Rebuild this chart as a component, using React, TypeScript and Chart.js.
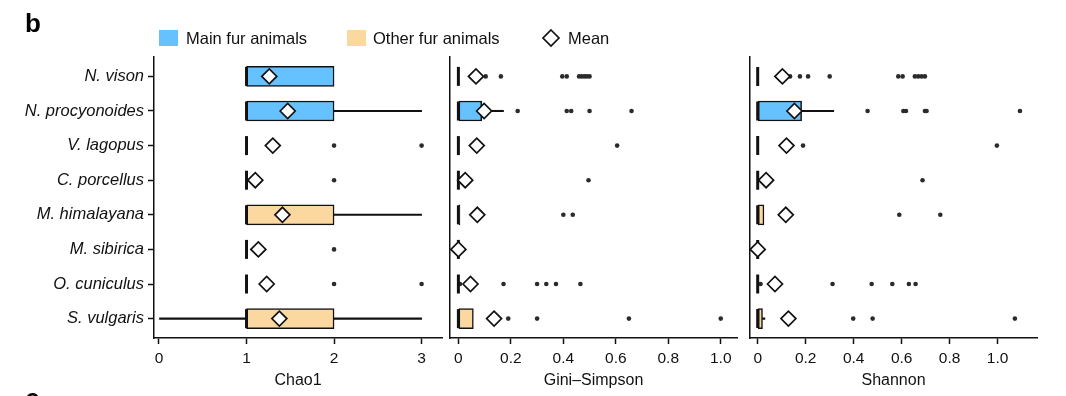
import React, { useEffect, useRef } from 'react';
import { Chart, registerables } from 'chart.js';

Chart.register(...registerables);

const FONT = "'Liberation Sans', Arial, Helvetica, sans-serif";
const INK = '#111111';
const MAIN_COLOR = '#66C2FF';
const OTHER_COLOR = '#FBD89F';
const DOT_COLOR = '#2b2b2b';

// Categories (top to bottom)
const species = [
  'N. vison',
  'N. procyonoides',
  'V. lagopus',
  'C. porcellus',
  'M. himalayana',
  'M. sibirica',
  'O. cuniculus',
  'S. vulgaris',
];
const isMainFur = [true, true, true, true, false, false, false, false];

// Chao1
const chaoQ1 = [1, 1, 1, 1, 1, 1, 1, 1];
const chaoQ3 = [2, 2, 1, 1, 2, 1, 1, 2];
const chaoMedian = [1, 1, 1, 1, 1, 1, 1, 1];
const chaoWhiskerLow = [1, 1, 1, 1, 1, 1, 1, 0];
const chaoWhiskerHigh = [2, 3, 1, 1, 3, 1, 1, 3];
const chaoMean = [1.26, 1.47, 1.3, 1.1, 1.41, 1.135, 1.23, 1.375];
const chaoOutliers = [[], [], [2, 3], [2], [], [2], [2, 3], []];
const chaoTicks = [0, 1, 2, 3];

// Gini–Simpson
const giniQ1 = [0, 0, 0, 0, 0, 0, 0, 0];
const giniQ3 = [0, 0.089, 0, 0, 0.006, 0, 0, 0.057];
const giniMedian = [0, 0, 0, 0, 0, 0, 0, 0];
const giniWhiskerLow = [0, 0, 0, 0, 0, 0, 0, 0];
const giniWhiskerHigh = [0, 0.172, 0, 0, 0.006, 0, 0, 0.057];
const giniMean = [0.067, 0.098, 0.07, 0.026, 0.072, 0.0, 0.046, 0.136];
const giniOutliers = [
  [0.104, 0.162, 0.396, 0.413, 0.46, 0.47, 0.48, 0.49, 0.5],
  [0.226, 0.413, 0.43, 0.5, 0.66],
  [0.605],
  [0.496],
  [0.4, 0.436],
  [],
  [0.006, 0.172, 0.3, 0.335, 0.372, 0.465],
  [0.19, 0.3, 0.65, 1.0],
];
const giniTicks = [0, 0.2, 0.4, 0.6, 0.8, 1.0];

// Shannon
const shannonQ1 = [0, 0, 0, 0, 0, 0, 0, 0];
const shannonQ3 = [0, 0.183, 0, 0, 0.026, 0, 0, 0.02];
const shannonMedian = [0, 0, 0, 0, 0, 0, 0, 0];
const shannonWhiskerLow = [0, 0, 0, 0, 0, 0, 0, 0];
const shannonWhiskerHigh = [0, 0.317, 0, 0, 0.026, 0, 0, 0.03];
const shannonMean = [0.103, 0.153, 0.12, 0.035, 0.117, 0.0, 0.072, 0.128];
const shannonOutliers = [
  [0.135, 0.176, 0.21, 0.3, 0.586, 0.604, 0.655, 0.669, 0.683, 0.697],
  [0.458, 0.607, 0.618, 0.697, 0.704, 1.093],
  [0.189, 0.997],
  [0.687],
  [0.59, 0.761],
  [],
  [0.012, 0.312, 0.475, 0.561, 0.63, 0.658],
  [0.398, 0.479, 1.072],
];
const shannonTicks = [0, 0.2, 0.4, 0.6, 0.8, 1.0];

type Panel = {
  title: string;
  q1: number[];
  q3: number[];
  median: number[];
  whiskerLow: number[];
  whiskerHigh: number[];
  mean: number[];
  outliers: number[][];
  ticks: number[];
  decimals: number;
  xMin: number;
  xMax: number;
  showLabels: boolean;
  // layout
  left: number;
  width: number;
  yAxisWidth: number;
  padRight: number;
};

const panels: Panel[] = [
  {
    title: 'Chao1', q1: chaoQ1, q3: chaoQ3, median: chaoMedian, whiskerLow: chaoWhiskerLow,
    whiskerHigh: chaoWhiskerHigh, mean: chaoMean, outliers: chaoOutliers, ticks: chaoTicks,
    decimals: 0, xMin: -0.057, xMax: 3.233, showLabels: true,
    left: 0, width: 446, yAxisWidth: 154, padRight: 4,
  },
  {
    title: 'Gini–Simpson', q1: giniQ1, q3: giniQ3, median: giniMedian, whiskerLow: giniWhiskerLow,
    whiskerHigh: giniWhiskerHigh, mean: giniMean, outliers: giniOutliers, ticks: giniTicks,
    decimals: 1, xMin: -0.032, xMax: 1.062, showLabels: false,
    left: 446, width: 300, yAxisWidth: 4, padRight: 9,
  },
  {
    title: 'Shannon', q1: shannonQ1, q3: shannonQ3, median: shannonMedian, whiskerLow: shannonWhiskerLow,
    whiskerHigh: shannonWhiskerHigh, mean: shannonMean, outliers: shannonOutliers, ticks: shannonTicks,
    decimals: 1, xMin: -0.035, xMax: 1.167, showLabels: false,
    left: 746, width: 320, yAxisWidth: 3.3, padRight: 28.3,
  },
];

const CANVAS_H = 396;
const PLOT_TOP = 57;
const XAXIS_H = 58;

function buildConfig(p: Panel): any {
  const rows = species.map((_, i) => i);
  const boxRows = rows.filter((i) => p.q3[i] > p.q1[i]);
  const hiRows = rows.filter((i) => p.whiskerHigh[i] > p.q3[i]);
  const loRows = rows.filter((i) => p.whiskerLow[i] < p.q1[i]);

  const barCommon = {
    type: 'bar',
    indexAxis: 'y',
    grouped: false,
    barPercentage: 1,
    categoryPercentage: 1,
  };

  const datasets: any[] = [
    {
      ...barCommon,
      label: 'whisker-high',
      data: hiRows.map((i) => ({ y: i, x: [p.q3[i], p.whiskerHigh[i]] })),
      backgroundColor: INK,
      borderWidth: 0,
      maxBarThickness: 1.4,
      order: 5,
    },
    {
      ...barCommon,
      label: 'whisker-low',
      data: loRows.map((i) => ({ y: i, x: [p.whiskerLow[i], p.q1[i]] })),
      backgroundColor: INK,
      borderWidth: 0,
      maxBarThickness: 1.4,
      order: 5,
    },
    {
      ...barCommon,
      label: 'box',
      data: boxRows.map((i) => ({ y: i, x: [p.q1[i], p.q3[i]] })),
      backgroundColor: boxRows.map((i) => (isMainFur[i] ? MAIN_COLOR : OTHER_COLOR)),
      borderColor: INK,
      borderWidth: 1.5,
      borderSkipped: false,
      maxBarThickness: 20,
      order: 4,
    },
    {
      type: 'scatter',
      label: 'outliers',
      data: rows.flatMap((i) => p.outliers[i].map((v) => ({ x: v, y: i }))),
      pointStyle: 'circle',
      pointRadius: 2.3,
      pointBackgroundColor: DOT_COLOR,
      pointBorderWidth: 0,
      order: 3,
    },
    {
      type: 'scatter',
      label: 'median',
      data: rows.map((i) => ({ x: p.median[i], y: i })),
      pointStyle: 'line',
      pointRotation: 90,
      pointRadius: 9.5,
      pointBorderColor: INK,
      pointBorderWidth: 3,
      order: 2,
    },
    {
      type: 'scatter',
      label: 'mean',
      data: rows.map((i) => ({ x: p.mean[i], y: i })),
      pointStyle: 'rectRot',
      pointRadius: 7.5,
      pointBackgroundColor: '#ffffff',
      pointBorderColor: INK,
      pointBorderWidth: 1.7,
      order: 1,
    },
  ];

  return {
    type: 'bar',
    data: { datasets },
    options: {
      responsive: false,
      animation: false,
      devicePixelRatio: 1,
      indexAxis: 'y',
      events: [],
      layout: {
        autoPadding: false,
        padding: { top: PLOT_TOP, right: p.padRight, left: 0, bottom: 0 },
      },
      plugins: { legend: { display: false }, tooltip: { enabled: false }, title: { display: false } },
      scales: {
        x: {
          type: 'linear',
          position: 'bottom',
          offset: false,
          min: p.xMin,
          max: p.xMax,
          afterBuildTicks: (s: any) => {
            s.ticks = p.ticks.map((v) => ({ value: v }));
          },
          afterFit: (s: any) => {
            s.height = XAXIS_H;
            s.paddingLeft = 0;
            s.paddingRight = 0;
          },
          ticks: {
            autoSkip: false,
            maxRotation: 0,
            padding: 5,
            color: INK,
            font: { family: FONT, size: 15.5 },
            callback: (v: number) => (v === 0 ? '0' : v.toFixed(p.decimals)),
          },
          grid: {
            offset: false,
            drawOnChartArea: false,
            drawTicks: true,
            tickLength: 6,
            tickWidth: 1.5,
            tickColor: INK,
          },
          border: { display: true, color: INK, width: 1.5 },
          title: {
            display: true,
            text: p.title,
            color: INK,
            font: { family: FONT, size: 16 },
            padding: { top: 0, bottom: 6 },
          },
        },
        y: {
          type: 'linear',
          position: 'left',
          reverse: true,
          offset: false,
          min: -0.56,
          max: species.length - 1 + 0.56,
          afterBuildTicks: (s: any) => {
            s.ticks = species.map((_, i) => ({ value: i }));
          },
          afterFit: (s: any) => {
            s.width = p.yAxisWidth;
            s.paddingTop = 0;
            s.paddingBottom = 0;
          },
          ticks: {
            display: p.showLabels,
            autoSkip: false,
            padding: 4,
            color: INK,
            font: { family: FONT, size: 16.5, style: 'italic' },
            callback: (v: number) => species[Math.round(v)] ?? '',
          },
          grid: {
            offset: false,
            drawOnChartArea: false,
            drawTicks: p.showLabels,
            tickLength: 6,
            tickWidth: 1.5,
            tickColor: INK,
          },
          border: { display: true, color: INK, width: 1.5 },
        },
      },
    },
  };
}

function PanelChart({ p }: { p: Panel }) {
  const ref = useRef<HTMLCanvasElement | null>(null);
  useEffect(() => {
    if (!ref.current) return;
    const chart = new Chart(ref.current, buildConfig(p));
    return () => chart.destroy();
  }, [p]);
  return (
    <canvas
      ref={ref}
      width={p.width}
      height={CANVAS_H}
      style={{ position: 'absolute', left: p.left, top: 0, width: p.width, height: CANVAS_H }}
    />
  );
}

const legendText: React.CSSProperties = {
  position: 'absolute',
  top: 29,
  fontFamily: FONT,
  fontSize: 16.5,
  lineHeight: '19px',
  color: INK,
  whiteSpace: 'nowrap',
};

export default function App() {
  return (
    <div
      style={{
        position: 'absolute',
        left: 0,
        top: 0,
        width: 1066,
        height: 396,
        overflow: 'hidden',
        background: '#ffffff',
      }}
    >
      {panels.map((p) => (
        <PanelChart key={p.title} p={p} />
      ))}
      <div
        style={{
          position: 'absolute', left: 25, top: 10, fontFamily: FONT, fontWeight: 'bold',
          fontSize: 26, lineHeight: '26px', color: '#000',
        }}
      >
        b
      </div>
      <div
        style={{
          position: 'absolute', left: 25, top: 385, fontFamily: FONT, fontWeight: 'bold',
          fontSize: 26, lineHeight: '26px', color: '#000',
        }}
      >
        c
      </div>
      <div style={{ position: 'absolute', left: 159, top: 30, width: 19, height: 16, background: MAIN_COLOR }} />
      <div style={{ ...legendText, left: 186 }}>Main fur animals</div>
      <div style={{ position: 'absolute', left: 347, top: 30, width: 19, height: 16, background: OTHER_COLOR }} />
      <div style={{ ...legendText, left: 373 }}>Other fur animals</div>
      <svg style={{ position: 'absolute', left: 541, top: 28 }} width={20} height={20}>
        <polygon points="10,2 18,10 10,18 2,10" fill="#fff" stroke={INK} strokeWidth={1.7} />
      </svg>
      <div style={{ ...legendText, left: 568 }}>Mean</div>
    </div>
  );
}
